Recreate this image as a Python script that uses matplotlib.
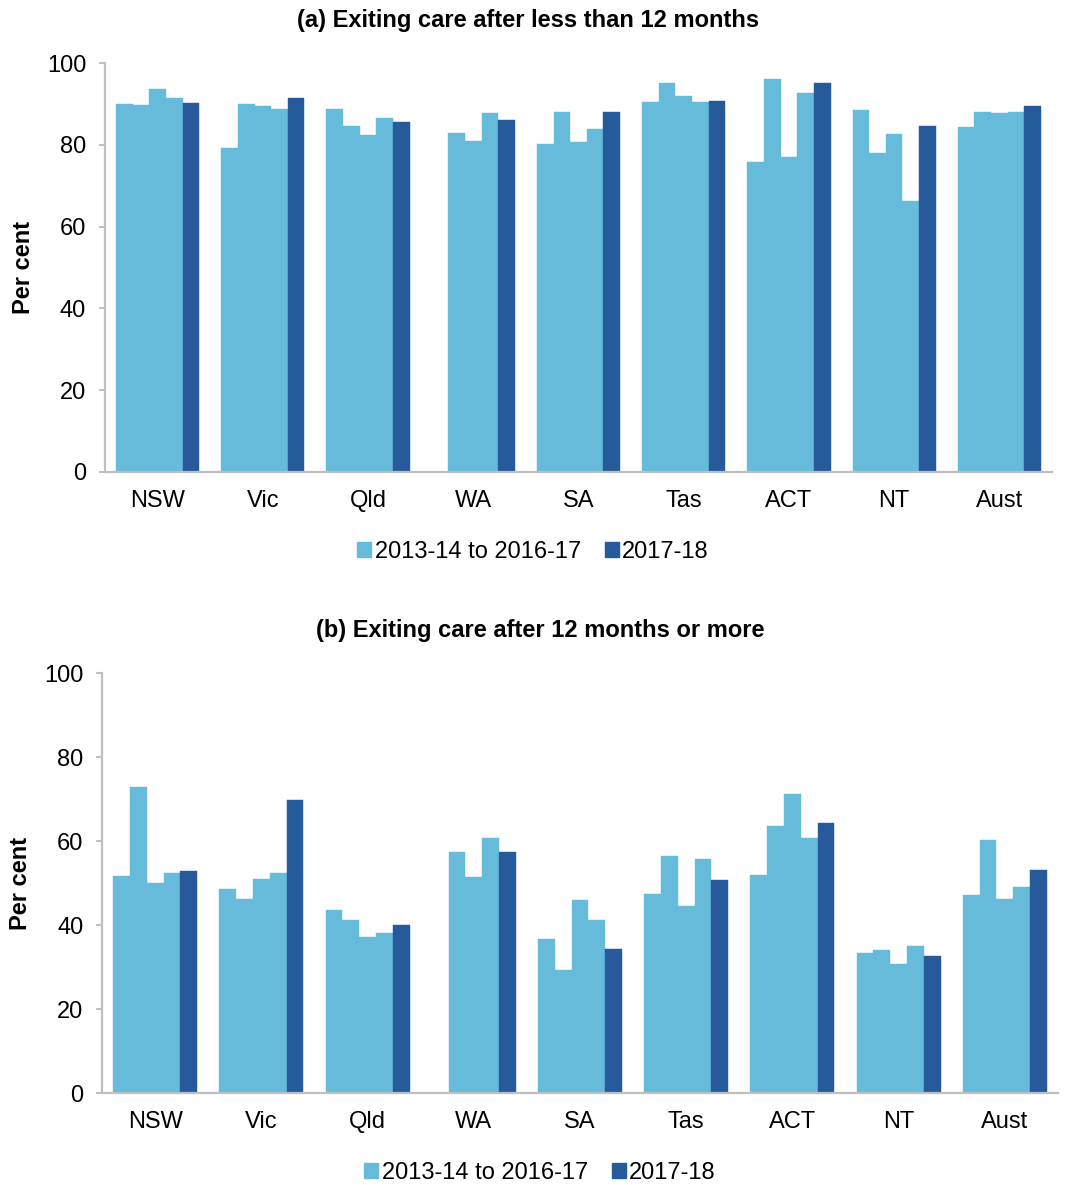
import matplotlib
matplotlib.use("Agg")
import matplotlib.pyplot as plt
import numpy as np
from matplotlib.patches import Patch

plt.rcParams['font.family'] = ['Liberation Sans', 'DejaVu Sans']

states = ["NSW", "Vic", "Qld", "WA", "SA", "Tas", "ACT", "NT", "Aust"]
yticks = [0, 20, 40, 60, 80, 100]
legend_labels = ["2013-14 to 2016-17", "2017-18"]

# (a) Exiting care after less than 12 months
a_2013_14 = [90.0, 79.1, 88.7, None, 80.1, 90.4, 75.7, 88.5, 84.3]
a_2014_15 = [89.8, 90.0, 84.5, 82.8, 88.1, 95.0, 96.1, 78.1, 88.1]
a_2015_16 = [93.7, 89.5, 82.5, 81.0, 80.8, 92.0, 77.0, 82.6, 87.8]
a_2016_17 = [91.4, 88.7, 86.5, 87.7, 83.9, 90.4, 92.6, 66.3, 88.1]
a_2017_18 = [90.2, 91.5, 85.5, 86.1, 88.1, 90.8, 95.0, 84.5, 89.4]

# (b) Exiting care after 12 months or more
b_2013_14 = [51.7, 48.5, 43.6, None, 36.7, 47.4, 51.9, 33.3, 47.1]
b_2014_15 = [72.9, 46.2, 41.3, 57.5, 29.3, 56.5, 63.6, 34.0, 60.3]
b_2015_16 = [50.1, 51.0, 37.1, 51.5, 45.9, 44.5, 71.1, 30.7, 46.3]
b_2016_17 = [52.3, 52.3, 38.2, 60.7, 41.1, 55.8, 60.8, 35.1, 49.0]
b_2017_18 = [52.8, 69.8, 39.9, 57.5, 34.2, 50.6, 64.4, 32.6, 53.2]

LIGHT = "#66BBDB"
DARK = "#265A9A"
GREY = "#BFBFBF"

W, H = 1065, 1185
fig = plt.figure(figsize=(W / 100, H / 100), dpi=100)


def panel(rect, light_series, dark_series, title, title_xy, legend_xy, ylabel_x):
    ax = fig.add_axes(rect)
    x = np.arange(len(states))
    w = 0.158
    for i, s in enumerate(light_series):
        vals = np.array([np.nan if v is None else v for v in s], dtype=float)
        ax.bar(x + (i - 2) * w, vals, width=w, color=LIGHT, edgecolor=LIGHT,
               linewidth=0.3)
    ax.bar(x + 2 * w, dark_series, width=w, color=DARK, edgecolor=DARK, linewidth=0.3)
    ax.set_xlim(-0.5, len(states) - 0.5)
    ax.set_ylim(0, 100)
    ax.set_yticks(yticks)
    ax.set_xticks(x)
    ax.set_xticklabels(states)
    for sp in ["top", "right"]:
        ax.spines[sp].set_visible(False)
    for sp in ["left", "bottom"]:
        ax.spines[sp].set_color(GREY)
        ax.spines[sp].set_linewidth(1.6)
    ax.tick_params(axis="y", length=4.5, width=1.4, color=GREY, pad=9, labelsize=17)
    ax.tick_params(axis="x", length=0, pad=13, labelsize=17)
    fig.text(title_xy[0] / W, 1 - title_xy[1] / H, title, ha="center", va="center",
             fontsize=17, fontweight="bold")
    fig.text(ylabel_x / W, rect[1] + rect[3] / 2, "Per cent", rotation=90,
             ha="center", va="center", fontsize=17, fontweight="bold")
    handles = [Patch(facecolor=LIGHT, edgecolor=LIGHT), Patch(facecolor=DARK, edgecolor=DARK)]
    fig.legend(handles, legend_labels, loc="center", ncol=2, frameon=False,
               bbox_to_anchor=(legend_xy[0] / W, 1 - legend_xy[1] / H),
               fontsize=17, handlelength=0.6, handleheight=0.6, handletextpad=0.15,
               columnspacing=1.0)
    return ax


panel([105 / W, 1 - 472 / H, (1052 - 105) / W, (472 - 63) / H],
      [a_2013_14, a_2014_15, a_2015_16, a_2016_17], a_2017_18,
      "(a) Exiting care after less than 12 months", (528, 20), (533, 552), 24)
panel([102 / W, 1 - 1093 / H, (1058 - 102) / W, (1093 - 673) / H],
      [b_2013_14, b_2014_15, b_2015_16, b_2016_17], b_2017_18,
      "(b) Exiting care after 12 months or more", (540, 631), (540, 1173), 21)

fig.savefig("out.png", dpi=100)
